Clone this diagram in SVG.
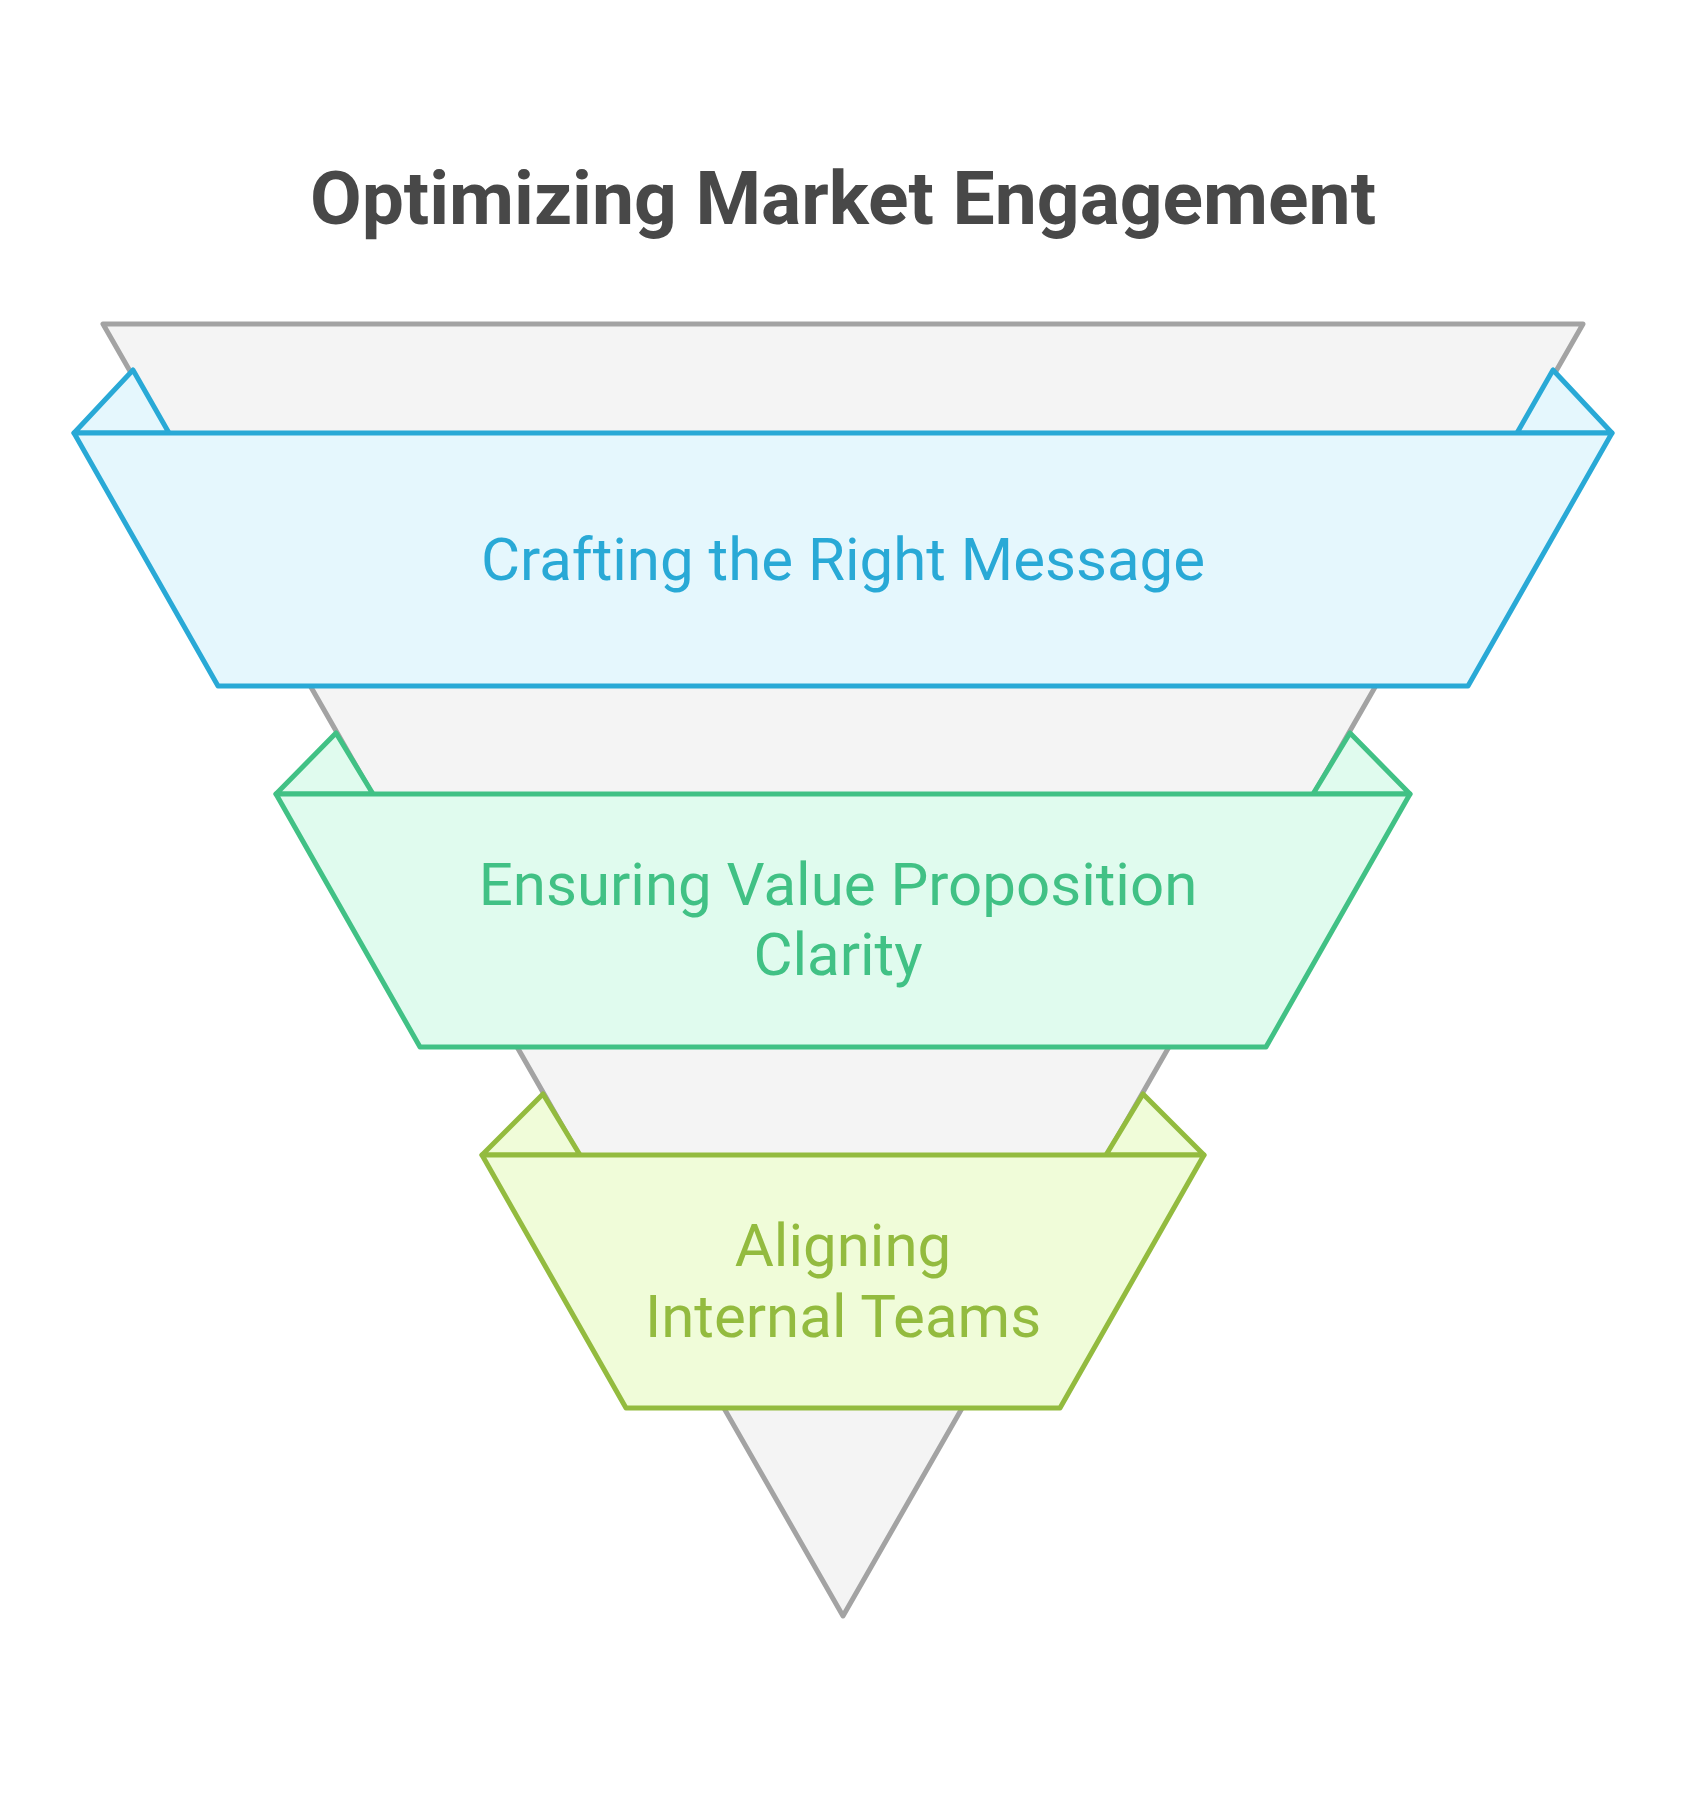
<svg xmlns="http://www.w3.org/2000/svg" width="1694" height="1800" viewBox="0 0 1694 1800">
<style>
text{font-family:Roboto,"Liberation Sans",sans-serif;text-anchor:middle}
.t{font-size:75px;font-weight:bold;fill:#484848}
.l{font-size:60px}
path{stroke-width:5;stroke-linejoin:round}
.g{fill:#f4f4f4;stroke:#a3a3a3}
.b{fill:#e5f7fd;stroke:#29a9d6}.bt{fill:#29a9d6}
.n{fill:#e0fbee;stroke:#41c185}.nt{fill:#41c185}
.y{fill:#f0fcd9;stroke:#93bb3f}.yt{fill:#93bb3f}
</style>
<rect width="1694" height="1800" fill="#fff"/>
<g transform="translate(-4,0)">
<text class="t" x="847" y="224">Optimizing Market Engagement</text>
<g id="funnel"><path class="g" d="M107 324 L1587 324 L847 1616 Z"/></g>
<g id="n1">
<path class="b" d="M78 433 L137 370 L173 433 Z M1616 433 L1557 370 L1521 433 Z"/>
<path class="b" d="M78 433 L1616 433 L1472 686 L222 686 Z"/>
<text class="l bt" x="847" y="580">Crafting the Right Message</text>
</g>
<g id="n2">
<path class="n" d="M280 794 L340 733 L377 794 Z M1414 794 L1354 733 L1317 794 Z"/>
<path class="n" d="M280 794 L1414 794 L1270 1047 L424 1047 Z"/>
<text class="l nt" x="842" y="905">Ensuring Value Proposition</text>
<text class="l nt" x="842" y="975">Clarity</text>
</g>
<g id="n3">
<path class="y" d="M486 1155 L547 1094 L584 1155 Z M1208 1155 L1147 1094 L1110 1155 Z"/>
<path class="y" d="M486 1155 L1208 1155 L1064 1408 L630 1408 Z"/>
<text class="l yt" x="847" y="1266">Aligning</text>
<text class="l yt" x="847" y="1337">Internal Teams</text>
</g>
</g>
<g id="connectors"/>
</svg>
